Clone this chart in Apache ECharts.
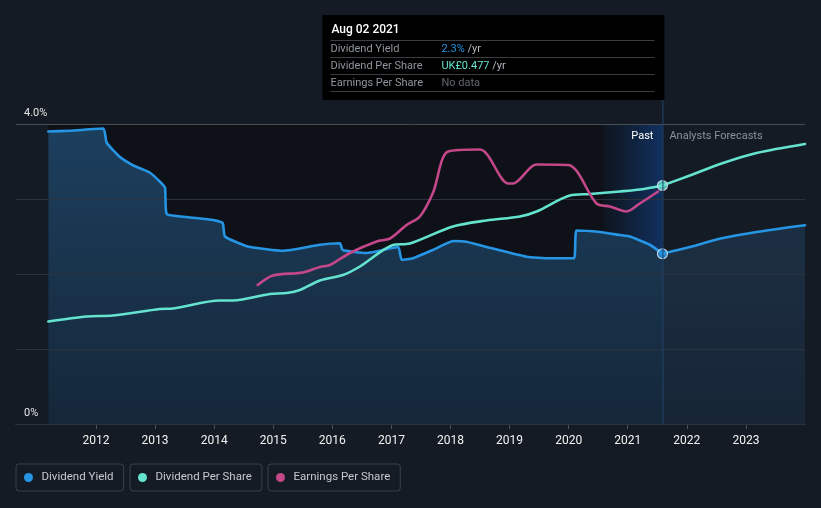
<!DOCTYPE html>
<html><head><meta charset="utf-8">
<script src="https://cdn.jsdelivr.net/npm/echarts@6/dist/echarts.min.js"></script>
<style>html,body{margin:0;padding:0;background:#151b24;}#c{width:821px;height:508px;}</style>
</head><body><div id="c"></div>
<script>
// ---------- data ----------
const tickYears = [2012, 2013, 2014, 2015, 2016, 2017, 2018, 2019, 2020, 2021, 2022, 2023];
const yieldTicks = [0, 1, 2, 3, 4];

const yieldYearsPast = [2011.193, 2011.56, 2012.124, 2012.181, 2012.406, 2012.626, 2012.914, 2013.083, 2013.168, 2013.196,
  2013.535, 2013.98, 2014.144, 2014.183, 2014.55, 2014.888, 2015.169, 2015.452, 2015.79, 2016.129,
  2016.174, 2016.58, 2017.115, 2017.173, 2017.364, 2017.70, 2018.046, 2018.27, 2018.611, 2019.288,
  2019.68, 2020.088, 2020.134, 2020.528, 2020.866, 2021.036, 2021.374, 2021.587];
const yieldPast = [3.90, 3.91, 3.94, 3.75, 3.56, 3.45, 3.35, 3.23, 3.15, 2.80,
  2.76, 2.72, 2.68, 2.50, 2.37, 2.33, 2.31, 2.34, 2.39, 2.41,
  2.32, 2.28, 2.36, 2.19, 2.21, 2.32, 2.44, 2.43, 2.36, 2.23,
  2.21, 2.21, 2.58, 2.56, 2.52, 2.50, 2.39, 2.27];
const yieldYearsFc = [2021.587, 2022.05, 2022.614, 2023.18, 2024.0];
const yieldFc = [2.27, 2.36, 2.48, 2.56, 2.65];

const dpsYearsPast = [2011.193, 2011.843, 2012.288, 2013.083, 2013.303, 2014.098, 2014.318, 2014.944, 2015.227, 2015.452,
  2015.79, 2016.179, 2016.467, 2017.025, 2017.313, 2018.041, 2018.611, 2019.174, 2019.457, 2020.02,
  2020.359, 2020.866, 2021.205, 2021.587];
const dpsPast = [0.205, 0.215, 0.217, 0.230, 0.231, 0.247, 0.247, 0.260, 0.262, 0.268,
  0.287, 0.298, 0.315, 0.358, 0.361, 0.395, 0.407, 0.415, 0.425, 0.457,
  0.460, 0.465, 0.469, 0.477];
const dpsYearsFc = [2021.587, 2022.05, 2022.614, 2023.18, 2024.0];
const dpsFc = [0.477, 0.497, 0.522, 0.542, 0.560];

const epsYears = [2014.736, 2014.995, 2015.503, 2015.79, 2015.96, 2016.298, 2016.75, 2016.975, 2017.257, 2017.482,
  2017.702, 2017.961, 2018.497, 2018.976, 2019.056, 2019.457, 2019.992, 2020.472, 2020.697, 2020.98,
  2021.205, 2021.514];
const eps = [0.278, 0.297, 0.303, 0.314, 0.318, 0.342, 0.365, 0.371, 0.398, 0.415,
  0.462, 0.545, 0.549, 0.481, 0.481, 0.519, 0.518, 0.441, 0.435, 0.425,
  0.441, 0.465];

const legendNames = ['Dividend Yield', 'Dividend Per Share', 'Earnings Per Share'];
const tooltipDate = 'Aug 02 2021';

// ---------- style ----------
const C_YIELD = '#2595e4', C_DPS = '#64e3cf', C_EPS = '#c4478a';
const BG = '#151b24';
const zip = (a, b) => a.map((x, i) => [x, b[i]]);
const pastEnd = yieldYearsPast[yieldYearsPast.length - 1];
const lastYield = yieldPast[yieldPast.length - 1];
const lastDps = dpsPast[dpsPast.length - 1];

const chart = echarts.init(document.getElementById('c'), null, {renderer: 'canvas'});

function lineSeries(name, data, color, yIdx, sm) {
  return {name, type: 'line', data, yAxisIndex: yIdx, z: 5, symbol: 'none', showSymbol: false,
    smooth: sm, lineStyle: {color, width: 2.6, cap: 'round', join: 'round'}, itemStyle: {color}};
}
function legend(name, left) {
  return {data: [name], left, top: 464, padding: [7, 10, 7, 8], itemWidth: 16, itemHeight: 9,
    icon: 'circle', borderColor: '#3a414c', borderWidth: 1, borderRadius: 3, selectedMode: false,
    textStyle: {color: '#c6c9ce', fontSize: 11.5, fontFamily: 'Roboto', lineHeight: 13}};
}

chart.setOption({
  backgroundColor: BG,
  animation: false,
  grid: {left: 16, right: 16, top: 124, bottom: 84},
  legend: [legend(legendNames[0], 16), legend(legendNames[1], 130), legend(legendNames[2], 268)],
  xAxis: {type: 'value', min: 2010.646, max: 2024, splitLine: {show: false},
    axisLine: {lineStyle: {color: '#4b5159'}},
    axisTick: {show: true, length: 5, lineStyle: {color: '#4b5159'}, customValues: tickYears},
    axisLabel: {customValues: tickYears, color: '#f2f2f2', fontSize: 12, fontFamily: 'Roboto', margin: 11,
      formatter: v => String(Math.round(v))}},
  yAxis: [
    {type: 'value', min: yieldTicks[0], max: yieldTicks[yieldTicks.length - 1], interval: 1, z: 3,
      axisLine: {show: false}, axisTick: {show: false},
      splitLine: {lineStyle: {color: ['#2b323c', '#2b323c', '#2b323c', '#2b323c', '#474d55'], width: 1}},
      axisLabel: {inside: true, margin: 8, color: '#e6e6e6', fontSize: 11, fontFamily: 'Roboto',
        verticalAlign: 'bottom', padding: [0, 0, 5, 0],
        formatter: v => v === 4 ? '4.0%' : (v === 0 ? '0%' : '')}},
    {type: 'value', min: 0, max: 0.6, show: false, splitLine: {show: false}},
    {type: 'value', min: 0, max: 0.6, show: false, splitLine: {show: false}}
  ],
  series: [
    {name: 'pastShade', type: 'line', data: [], z: 1, silent: true,
      markArea: {silent: true, itemStyle: {color: '#0e1218'},
        data: [[{xAxis: yieldYearsPast[0]}, {xAxis: pastEnd}]]}},
    {name: 'yieldAreaPast', type: 'line', data: zip(yieldYearsPast, yieldPast), z: 2, symbol: 'none', silent: true,
      smooth: 0.15, lineStyle: {width: 0},
      areaStyle: {opacity: 1, color: new echarts.graphic.LinearGradient(0, 0, 0, 1,
        [{offset: 0, color: '#1c3f5e'}, {offset: 1, color: '#152739'}])}},
    {name: 'yieldAreaFc', type: 'line', data: zip(yieldYearsFc, yieldFc), z: 2, symbol: 'none', silent: true,
      smooth: 0.3, lineStyle: {width: 0},
      areaStyle: {opacity: 1, color: new echarts.graphic.LinearGradient(0, 0, 0, 1,
        [{offset: 0, color: '#1c2f42'}, {offset: 1, color: '#172536'}])}},
    {name: 'pastBand', type: 'line', data: [], z: 3, silent: true,
      markArea: {silent: true, itemStyle: {color: new echarts.graphic.LinearGradient(0, 0, 1, 0,
        [{offset: 0, color: 'rgba(20,90,190,0.04)'}, {offset: 1, color: 'rgba(20,100,215,0.38)'}])},
        data: [[{xAxis: pastEnd - 1}, {xAxis: pastEnd}]]}},
    lineSeries(legendNames[0], zip(yieldYearsPast, yieldPast), C_YIELD, 0, 0.15),
    lineSeries(legendNames[0], zip(yieldYearsFc, yieldFc), C_YIELD, 0, 0.3),
    lineSeries(legendNames[1], zip(dpsYearsPast, dpsPast), C_DPS, 1, 0.3),
    lineSeries(legendNames[1], zip(dpsYearsFc, dpsFc), C_DPS, 1, 0.3),
    lineSeries(legendNames[2], zip(epsYears, eps), C_EPS, 2, 0.3),
    {name: 'yieldNow', type: 'scatter', yAxisIndex: 0, z: 6, data: [[pastEnd, lastYield]], symbolSize: 10,
      itemStyle: {color: C_YIELD, borderColor: '#dde5ee', borderWidth: 1.2}},
    {name: 'dpsNow', type: 'scatter', yAxisIndex: 1, z: 6, data: [[pastEnd, lastDps]], symbolSize: 10,
      itemStyle: {color: C_DPS, borderColor: '#dde5ee', borderWidth: 1.2}}
  ]
});

// ---------- overlay: tooltip box, past/forecast labels ----------
const px = chart.convertToPixel({xAxisIndex: 0}, pastEnd);
const pyBottom = chart.convertToPixel({yAxisIndex: 0}, 0);
const pyTop = chart.convertToPixel({yAxisIndex: 0}, 4);
const boxRight = px + 2, boxW = 342, boxTop = 15, boxH = 85;
const bl = boxRight - boxW;
const rowLabelX = bl + 8, rowValX = bl + 119;
const rows = [
  ['Dividend Yield', '{b|' + lastYield.toFixed(1) + '%} {g|/yr}'],
  ['Dividend Per Share', '{t|UK£' + lastDps.toFixed(3) + '} {g|/yr}'],
  ['Earnings Per Share', '{n|No data}']
];
const g = [];
g.push({type: 'line', z: 50, silent: true, shape: {x1: px + 0.5, y1: boxTop + boxH, x2: px + 0.5, y2: pyBottom},
  style: {stroke: '#23466e', lineWidth: 1}});
g.push({type: 'rect', z: 60, silent: true, shape: {x: bl, y: boxTop, width: boxW, height: boxH},
  style: {fill: '#000000'}});
g.push({type: 'text', z: 61, silent: true, x: rowLabelX + 1, y: boxTop + 15,
  style: {text: tooltipDate, fill: '#ffffff', font: '500 12px Roboto', verticalAlign: 'middle'}});
for (let i = 0; i < 4; i++) {
  g.push({type: 'line', z: 61, silent: true,
    shape: {x1: rowLabelX, y1: boxTop + 25.5 + i * 17, x2: boxRight - 10, y2: boxTop + 25.5 + i * 17},
    style: {stroke: '#3a3d42', lineWidth: 1}});
}
rows.forEach((r, i) => {
  const cy = boxTop + 34 + i * 17;
  g.push({type: 'text', z: 61, silent: true, x: rowLabelX, y: cy,
    style: {text: r[0], fill: '#8f959c', font: '11px Roboto', verticalAlign: 'middle'}});
  g.push({type: 'text', z: 61, silent: true, x: rowValX, y: cy,
    style: {text: r[1], font: '11px Roboto', verticalAlign: 'middle',
      rich: {b: {fill: C_YIELD, font: '11px Roboto'}, t: {fill: C_DPS, font: '11px Roboto'},
        g: {fill: '#b5b9be', font: '11px Roboto'}, n: {fill: '#62676e', font: '11px Roboto'}}}});
});
g.push({type: 'text', z: 61, silent: true, x: px - 9, y: pyTop + 12,
  style: {text: 'Past', fill: '#ffffff', font: '11px Roboto', align: 'right', verticalAlign: 'middle'}});
g.push({type: 'text', z: 61, silent: true, x: px + 7, y: pyTop + 12,
  style: {text: 'Analysts Forecasts', fill: '#8b9199', font: '11px Roboto', align: 'left', verticalAlign: 'middle'}});
chart.setOption({graphic: g});
</script></body></html>
